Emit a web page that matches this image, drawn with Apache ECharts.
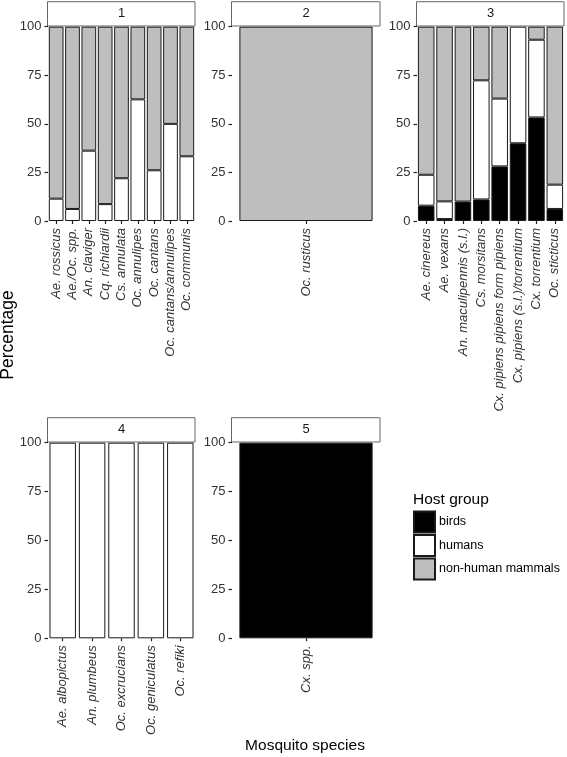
<!DOCTYPE html>
<html><head><meta charset="utf-8">
<script src="https://cdn.jsdelivr.net/npm/echarts@6/dist/echarts.min.js"></script>
<style>html,body{margin:0;padding:0;background:#fff}#c{width:567px;height:757px}</style>
</head><body><div id="c"></div>
<script>
const hostGroups = ['birds', 'humans', 'non-human mammals'];
const panelLabels = ['1', '2', '3', '4', '5'];
const yTicks = [0, 25, 50, 75, 100];

const cats1 = ['Ae. rossicus', 'Ae./Oc. spp.', 'An. claviger', 'Cq. richiardii', 'Cs. annulata', 'Oc. annulipes', 'Oc. cantans', 'Oc. cantans/annulipes', 'Oc. communis'];
const birds1 = [0, 0, 0, 0, 0, 0, 0, 0, 0];
const humans1 = [11.5, 6.2, 36.2, 8.7, 22.0, 62.6, 26.1, 50.0, 33.3];
const nonhuman1 = [88.5, 93.8, 63.8, 91.3, 78.0, 37.4, 73.9, 50.0, 66.7];

const cats2 = ['Oc. rusticus'];
const birds2 = [0];
const humans2 = [0];
const nonhuman2 = [100];

const cats3 = ['Ae. cinereus', 'Ae. vexans', 'An. maculipennis (s.l.)', 'Cs. morsitans', 'Cx. pipiens pipiens form pipiens', 'Cx. pipiens (s.l.)/torrentium', 'Cx. torrentium', 'Oc. sticticus'];
const birds3 = [7.9, 1.0, 10.0, 11.1, 28.1, 40.0, 53.3, 6.2];
const humans3 = [15.9, 9.1, 0, 61.3, 34.9, 60.0, 40.0, 12.5];
const nonhuman3 = [76.2, 89.9, 90.0, 27.6, 37.0, 0, 6.7, 81.3];

const cats4 = ['Ae. albopictus', 'An. plumbeus', 'Oc. excrucians', 'Oc. geniculatus', 'Oc. refiki'];
const birds4 = [0, 0, 0, 0, 0];
const humans4 = [100, 100, 100, 100, 100];
const nonhuman4 = [0, 0, 0, 0, 0];

const cats5 = ['Cx. spp.'];
const birds5 = [100];
const humans5 = [0];
const nonhuman5 = [0];

const panelData = [
  [cats1, birds1, humans1, nonhuman1],
  [cats2, birds2, humans2, nonhuman2],
  [cats3, birds3, humans3, nonhuman3],
  [cats4, birds4, humans4, nonhuman4],
  [cats5, birds5, humans5, nonhuman5]
];

// layout (pixels)
const boxes = [
  {left: 48, top: 26.7, width: 147, height: 194.3},
  {left: 232, top: 26.7, width: 148, height: 194.3},
  {left: 417, top: 26.7, width: 147, height: 194.3},
  {left: 48, top: 442.7, width: 147, height: 195.6},
  {left: 232, top: 442.7, width: 148, height: 195.6}
];
const fills = ['#000000', '#ffffff', '#bebebe'];
const FONT = 'Liberation Sans, Arial, sans-serif';
const textCol = '#333333';

const chart = echarts.init(document.getElementById('c'), null, {renderer: 'canvas'});

const grids = boxes.map(b => ({left: b.left, top: b.top, width: b.width, height: b.height, containLabel: false}));
const xAxes = panelData.map((pd, i) => ({
  type: 'category', gridIndex: i, data: pd[0],
  axisLine: {show: false},
  axisTick: {show: true, alignWithLabel: true, length: 3, lineStyle: {color: '#222', width: 1.2}},
  axisLabel: {rotate: 90, interval: 0, margin: 7, fontStyle: 'italic', fontSize: 13, color: textCol, fontFamily: FONT},
  splitLine: {show: false}
}));
const yAxes = panelData.map((pd, i) => ({
  type: 'value', gridIndex: i, min: yTicks[0], max: yTicks[yTicks.length - 1], interval: 25,
  axisLine: {show: false},
  axisTick: {show: true, length: 3.5, lineStyle: {color: '#222', width: 1.2}},
  axisLabel: {margin: 6.5, fontSize: 13, color: textCol, fontFamily: FONT},
  splitLine: {show: false}
}));

const series = [];
panelData.forEach((pd, i) => {
  for (let g = 0; g < 3; g++) {
    series.push({
      type: 'bar', name: hostGroups[g], xAxisIndex: i, yAxisIndex: i, stack: 'p' + i,
      barCategoryGap: '10%',
      data: pd[g + 1].map(v => v === 0 ? null : v),
      itemStyle: {color: fills[g], borderColor: '#1a1a1a', borderWidth: 1},
      emphasis: {disabled: true}
    });
  }
});

const graphic = [];
boxes.forEach((b, i) => {
  graphic.push({
    type: 'rect', shape: {x: b.left - 0.5, y: b.top - 25, width: b.width + 0.5, height: 24.3},
    style: {fill: '#fff', stroke: '#666', lineWidth: 1}, silent: true
  });
  graphic.push({
    type: 'text', x: b.left + b.width / 2, y: b.top - 12.8,
    style: {text: panelLabels[i], textAlign: 'center', textVerticalAlign: 'middle', fontSize: 13, fill: '#1a1a1a', fontFamily: FONT}, silent: true
  });
});
graphic.push({
  type: 'text', x: 8, y: 335, rotation: Math.PI / 2,
  style: {text: 'Percentage', textAlign: 'center', textVerticalAlign: 'middle', fontSize: 17.5, fill: '#000', fontFamily: FONT}, silent: true
});
graphic.push({
  type: 'text', x: 305, y: 746,
  style: {text: 'Mosquito species', textAlign: 'center', textVerticalAlign: 'middle', fontSize: 15.5, fill: '#000', fontFamily: FONT}, silent: true
});
graphic.push({
  type: 'text', x: 413, y: 500,
  style: {text: 'Host group', textAlign: 'left', textVerticalAlign: 'middle', fontSize: 15.5, fill: '#000', fontFamily: FONT}, silent: true
});

chart.setOption({
  animation: false,
  backgroundColor: '#fff',
  grid: grids, xAxis: xAxes, yAxis: yAxes, series: series,
  legend: {
    data: hostGroups, orient: 'vertical', left: 413, top: 510.5,
    itemWidth: 21, itemHeight: 21, itemGap: 0.5, icon: 'rect', padding: 0,
    textStyle: {fontSize: 12.5, color: '#000', fontFamily: FONT, padding: [0, 0, 0, -1]},
    selectedMode: false
  },
  graphic: graphic
});
</script></body></html>
